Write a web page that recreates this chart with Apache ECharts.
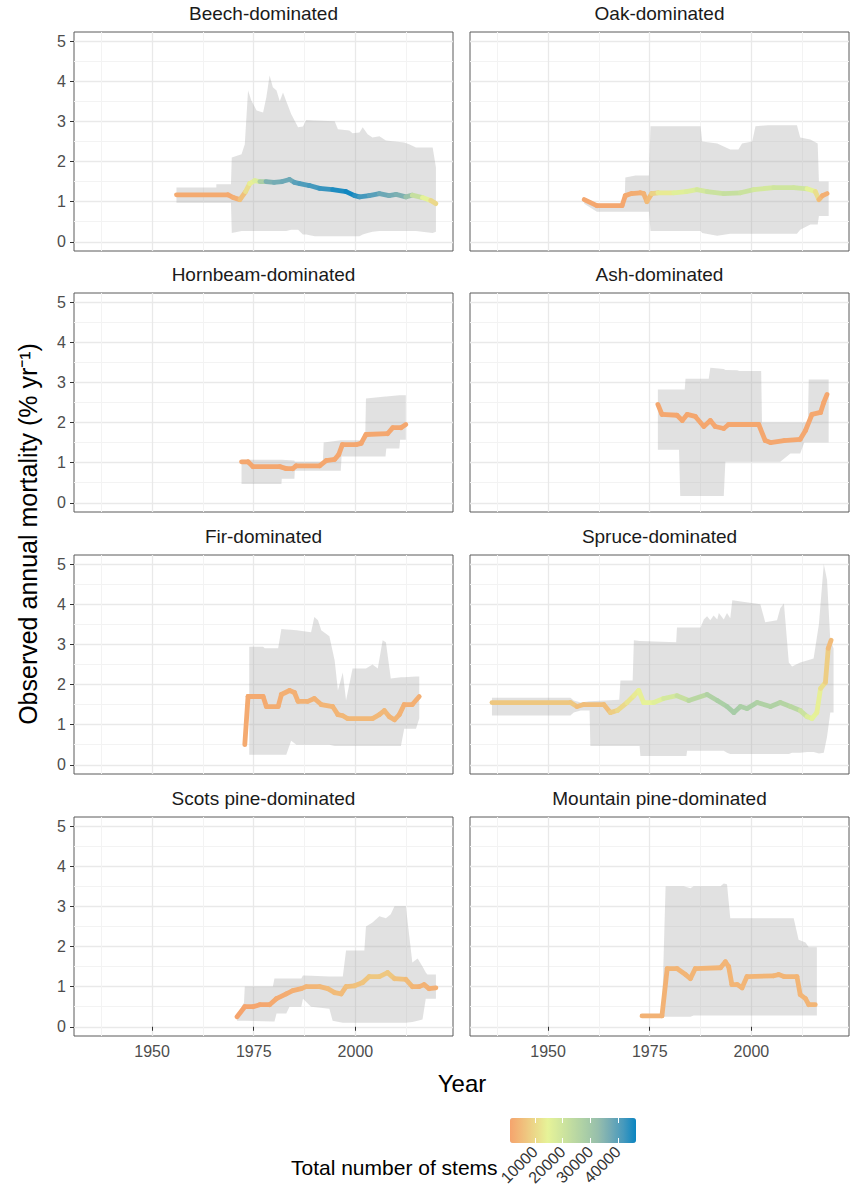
<!DOCTYPE html>
<html>
<head>
<meta charset="utf-8">
<title>Observed annual mortality</title>
<script src="https://cdn.jsdelivr.net/npm/echarts@6.0.0/dist/echarts.min.js"></script>
<style>
  html, body { margin: 0; padding: 0; background: #fff; }
  #chart { width: 855px; height: 1200px; }
</style>
</head>
<body>
<div id="chart"></div>
<script>
// facet names, in panel order (row by row)
var panelNames = ['Beech-dominated', 'Oak-dominated', 'Hornbeam-dominated', 'Ash-dominated',
                  'Fir-dominated', 'Spruce-dominated', 'Scots pine-dominated', 'Mountain pine-dominated'];

// tick labels
var xMajor = [1950, 1975, 2000];
var xMinor = [1937.5, 1962.5, 1987.5, 2012.5];
var yMajor = [0, 1, 2, 3, 4, 5];
var yMinor = [0.5, 1.5, 2.5, 3.5, 4.5];
var stemTicks = [10000, 20000, 30000, 40000];

// --- Beech ---
var beechBandYear = [1956.0, 1965.8, 1965.8, 1969.4, 1969.6, 1972.0, 1972.8, 1973.6, 1974.4, 1975.7, 1977.3, 1978.1, 1978.9, 1979.7, 1980.6, 1981.4, 1982.2, 1983.0, 1984.2, 1985.9, 1987.1, 1987.9, 1990.0, 1994.9, 1995.7, 1998.5, 1999.3, 2001.0, 2001.8, 2003.0, 2004.2, 2005.9, 2007.5, 2012.0, 2013.2, 2014.9, 2019.0, 2019.8];
var beechLow  = [0.97, 0.97, 0.97, 0.97, 0.22, 0.27, 0.27, 0.27, 0.27, 0.27, 0.27, 0.27, 0.27, 0.27, 0.27, 0.27, 0.27, 0.27, 0.30, 0.30, 0.18, 0.18, 0.14, 0.14, 0.14, 0.14, 0.14, 0.14, 0.18, 0.22, 0.25, 0.27, 0.27, 0.27, 0.27, 0.27, 0.22, 0.25];
var beechHigh = [1.35, 1.35, 1.43, 1.43, 2.10, 2.18, 2.43, 3.77, 3.52, 3.27, 3.22, 3.60, 4.14, 3.85, 3.77, 3.50, 3.72, 3.50, 3.18, 2.85, 2.87, 3.03, 3.02, 3.00, 2.80, 2.77, 2.70, 2.72, 2.85, 2.68, 2.60, 2.63, 2.52, 2.47, 2.43, 2.35, 2.35, 1.85];
var beechYear  = [1956.0, 1968.7, 1970.0, 1971.6, 1973.0, 1974.0, 1975.2, 1976.5, 1978.0, 1980.0, 1982.0, 1983.8, 1985.0, 1986.3, 1988.7, 1991.2, 1994.4, 1997.7, 1999.8, 2001.0, 2003.4, 2005.9, 2008.3, 2010.0, 2012.4, 2014.0, 2016.5, 2018.5, 2019.8];
var beechMort  = [1.17, 1.17, 1.10, 1.05, 1.25, 1.45, 1.52, 1.50, 1.50, 1.48, 1.50, 1.55, 1.48, 1.45, 1.40, 1.33, 1.30, 1.25, 1.15, 1.12, 1.15, 1.20, 1.15, 1.18, 1.12, 1.16, 1.10, 1.03, 0.95];
var beechStems = [2000, 2000, 3000, 6000, 11000, 14000, 17000, 28000, 36000, 37000, 38000, 38000, 40000, 41000, 42000, 43000, 45000, 46000, 44000, 42000, 40000, 38000, 37000, 36000, 32000, 22000, 15000, 10000, 5000];

// --- Oak ---
var oakBandYear = [1958.9, 1962.0, 1968.8, 1969.0, 1971.5, 1974.8, 1975.2, 1987.5, 1987.9, 1991.6, 1994.8, 1996.8, 1997.7, 2000.2, 2001.0, 2004.0, 2011.2, 2012.0, 2014.5, 2016.3, 2016.6, 2019.0];
var oakLow  = [0.95, 0.75, 0.75, 0.75, 0.75, 0.75, 0.27, 0.27, 0.22, 0.15, 0.20, 0.20, 0.20, 0.20, 0.20, 0.20, 0.20, 0.30, 0.43, 0.43, 0.64, 0.64];
var oakHigh = [1.10, 0.95, 0.95, 1.60, 1.65, 1.65, 2.88, 2.88, 2.50, 2.45, 2.30, 2.30, 2.45, 2.50, 2.88, 2.90, 2.90, 2.60, 2.55, 2.45, 1.50, 1.50];
var oakYear  = [1958.9, 1962.0, 1968.2, 1969.0, 1970.5, 1972.7, 1973.5, 1974.3, 1975.5, 1977.0, 1980.9, 1984.0, 1986.6, 1989.1, 1993.2, 1997.3, 2000.6, 2005.5, 2010.4, 2013.7, 2015.7, 2016.6, 2017.5, 2018.6];
var oakMort  = [1.05, 0.90, 0.90, 1.15, 1.20, 1.22, 1.20, 1.00, 1.20, 1.22, 1.22, 1.25, 1.30, 1.25, 1.20, 1.22, 1.30, 1.35, 1.35, 1.32, 1.25, 1.05, 1.15, 1.20];
var oakStems = [1500, 1500, 1500, 2000, 2500, 3000, 3500, 5000, 9000, 13000, 16000, 17000, 19000, 21000, 22000, 21000, 19000, 20000, 20000, 15000, 11000, 5000, 3000, 2500];

// --- Hornbeam ---
var hornbeamBandYear = [1972.0, 1981.8, 1981.9, 1985.0, 1985.1, 1992.0, 1992.2, 1996.4, 1996.6, 2002.4, 2002.6, 2007.4, 2007.6, 2010.8, 2011.0, 2012.4];
var hornbeamLow  = [0.47, 0.47, 0.60, 0.60, 0.80, 0.80, 0.80, 0.80, 1.15, 1.15, 1.15, 1.15, 1.35, 1.35, 1.57, 1.57];
var hornbeamHigh = [1.07, 1.07, 1.07, 1.05, 1.02, 1.02, 1.50, 1.56, 1.56, 1.56, 2.60, 2.65, 2.65, 2.68, 2.68, 2.68];
var hornbeamYear  = [1972.0, 1973.6, 1974.8, 1981.4, 1983.0, 1984.6, 1985.4, 1991.2, 1992.8, 1994.9, 1995.9, 1996.8, 2000.2, 2001.4, 2002.6, 2007.9, 2009.2, 2011.2, 2012.4];
var hornbeamMort  = [1.02, 1.02, 0.90, 0.90, 0.85, 0.85, 0.92, 0.92, 1.05, 1.08, 1.20, 1.45, 1.45, 1.48, 1.70, 1.72, 1.87, 1.87, 1.95];
var hornbeamStems = [1500, 1500, 1500, 1500, 1500, 1500, 1500, 1500, 1500, 1500, 1500, 1500, 1500, 1500, 1500, 1500, 1500, 1500, 1500];

// --- Ash ---
var ashBandYear = [1977.0, 1982.2, 1982.5, 1983.6, 1983.8, 1989.5, 1989.9, 1993.2, 1993.6, 1996.5, 1997.0, 2002.4, 2002.6, 2007.1, 2009.6, 2012.0, 2013.0, 2013.9, 2014.1, 2019.0];
var ashLow  = [1.32, 1.32, 0.17, 0.17, 0.17, 0.17, 0.17, 0.17, 1.02, 1.02, 1.02, 1.02, 1.02, 1.02, 1.23, 1.23, 1.50, 1.50, 1.50, 1.50];
var ashHigh = [2.82, 2.82, 2.82, 2.82, 3.09, 3.09, 3.36, 3.33, 3.31, 3.30, 3.28, 3.28, 2.00, 2.00, 2.00, 2.00, 2.00, 2.00, 3.07, 3.07];
var ashYear  = [1977.0, 1978.0, 1981.7, 1983.0, 1984.2, 1986.2, 1988.3, 1989.9, 1991.1, 1993.2, 1994.4, 2001.8, 2003.4, 2004.7, 2008.0, 2012.0, 2013.3, 2014.9, 2017.0, 2017.8, 2018.6];
var ashMort  = [2.45, 2.20, 2.18, 2.05, 2.20, 2.15, 1.90, 2.05, 1.90, 1.85, 1.95, 1.95, 1.55, 1.50, 1.55, 1.58, 1.80, 2.20, 2.25, 2.50, 2.70];
var ashStems = [1500, 1500, 1500, 1500, 1500, 1500, 1500, 1500, 1500, 1500, 1500, 1500, 1500, 1500, 1500, 1500, 1500, 1500, 1500, 1500, 1500];

// --- Fir ---
var firBandYear = [1973.9, 1977.3, 1977.7, 1981.0, 1981.8, 1983.0, 1984.2, 1985.5, 1989.1, 1989.9, 1990.8, 1991.6, 1993.6, 1994.9, 1995.7, 1996.9, 1997.7, 1999.3, 2002.6, 2004.2, 2005.5, 2006.7, 2007.5, 2008.7, 2011.2, 2012.0, 2014.9, 2015.7];
var firLow  = [0.25, 0.25, 0.25, 0.25, 0.25, 0.25, 0.60, 0.50, 0.50, 0.50, 0.50, 0.50, 0.50, 0.47, 0.47, 0.47, 0.47, 0.47, 0.47, 0.47, 0.47, 0.47, 0.47, 0.47, 0.47, 0.90, 0.90, 1.15];
var firHigh = [2.94, 2.94, 2.90, 2.90, 3.38, 3.37, 3.36, 3.35, 3.30, 3.68, 3.60, 3.35, 3.20, 2.60, 1.85, 2.30, 1.60, 2.40, 2.40, 2.50, 2.40, 3.10, 3.05, 2.15, 2.18, 2.18, 2.20, 2.20];
var firYear  = [1972.8, 1973.6, 1977.3, 1978.1, 1981.0, 1981.8, 1983.8, 1985.0, 1985.9, 1988.3, 1989.9, 1991.6, 1994.4, 1995.7, 1996.9, 1998.1, 2004.2, 2005.9, 2007.1, 2008.3, 2009.6, 2010.8, 2012.0, 2014.0, 2015.7];
var firMort  = [0.50, 1.70, 1.70, 1.45, 1.45, 1.75, 1.85, 1.80, 1.58, 1.58, 1.65, 1.50, 1.45, 1.25, 1.22, 1.15, 1.15, 1.25, 1.35, 1.20, 1.12, 1.25, 1.50, 1.50, 1.70];
var firStems = [2000, 2000, 2000, 2500, 2500, 3000, 3000, 3000, 3500, 3500, 3500, 4000, 4000, 4000, 4500, 4500, 4500, 4500, 4500, 4000, 4000, 3500, 3000, 3000, 2500];

// --- Spruce ---
var spruceBandYear = [1936.2, 1955.5, 1956.3, 1958.0, 1960.2, 1960.4, 1967.5, 1967.8, 1970.8, 1971.1, 1972.5, 1972.7, 1981.5, 1981.7, 1984.0, 1984.2, 1987.5, 1988.3, 1989.1, 1989.9, 1990.7, 1991.6, 1992.0, 1993.2, 1994.0, 1994.8, 1995.3, 2002.2, 2003.4, 2006.3, 2007.1, 2008.0, 2009.2, 2010.0, 2012.0, 2013.7, 2015.3, 2016.6, 2017.8, 2018.6, 2019.4, 2020.2];
var spruceLow  = [1.23, 1.23, 1.30, 1.35, 1.35, 0.47, 0.47, 0.47, 0.47, 0.47, 0.47, 0.22, 0.22, 0.22, 0.22, 0.35, 0.35, 0.35, 0.35, 0.35, 0.35, 0.35, 0.35, 0.35, 0.30, 0.27, 0.27, 0.27, 0.27, 0.27, 0.27, 0.27, 0.27, 0.30, 0.30, 0.32, 0.32, 0.28, 0.30, 0.70, 1.30, 1.30];
var spruceHigh = [1.67, 1.67, 1.60, 1.55, 1.58, 1.58, 1.62, 2.10, 2.10, 3.10, 3.08, 3.08, 3.05, 3.42, 3.42, 3.42, 3.42, 3.62, 3.70, 3.60, 3.72, 3.62, 3.78, 3.62, 3.78, 3.65, 4.10, 4.00, 3.55, 3.60, 3.90, 4.02, 2.55, 2.45, 2.55, 2.60, 2.65, 3.50, 5.00, 4.60, 3.10, 2.90];
var spruceYear  = [1936.2, 1955.5, 1957.1, 1958.8, 1963.7, 1965.3, 1967.0, 1969.4, 1971.1, 1972.3, 1973.5, 1976.0, 1978.4, 1981.7, 1984.6, 1989.1, 1991.6, 1994.0, 1995.7, 1997.3, 1998.9, 2001.4, 2004.7, 2007.1, 2009.6, 2012.0, 2013.7, 2014.9, 2016.1, 2017.0, 2018.2, 2018.9, 2019.6];
var spruceMort  = [1.55, 1.55, 1.45, 1.50, 1.50, 1.30, 1.35, 1.55, 1.72, 1.85, 1.55, 1.55, 1.65, 1.72, 1.60, 1.75, 1.60, 1.45, 1.30, 1.45, 1.40, 1.55, 1.45, 1.55, 1.45, 1.35, 1.20, 1.15, 1.30, 1.90, 2.05, 2.90, 3.10];
var spruceStems = [7000, 7000, 5500, 5500, 5500, 8000, 10000, 12000, 13000, 14000, 14500, 16000, 19000, 22000, 25000, 27000, 28000, 29000, 29000, 28000, 28000, 27000, 27000, 26000, 25000, 21000, 17000, 15000, 14000, 11000, 8000, 5000, 3000];

// --- Scots pine ---
var scotsBandYear = [1970.9, 1972.6, 1972.8, 1979.7, 1980.1, 1980.6, 1983.0, 1983.8, 1986.7, 1987.1, 1989.1, 1993.6, 1994.4, 1996.9, 1997.7, 2002.2, 2002.6, 2004.2, 2005.9, 2007.5, 2008.7, 2009.6, 2012.4, 2014.0, 2015.3, 2016.5, 2017.3, 2017.7, 2019.8];
var scotsLow  = [0.15, 0.15, 0.15, 0.13, 0.13, 0.33, 0.33, 0.50, 0.50, 0.70, 0.50, 0.45, 0.15, 0.10, 0.10, 0.10, 0.10, 0.10, 0.10, 0.10, 0.10, 0.10, 0.10, 0.12, 0.15, 0.18, 0.70, 0.70, 0.70];
var scotsHigh = [0.30, 0.60, 1.00, 1.00, 1.20, 1.20, 1.20, 1.20, 1.20, 1.28, 1.27, 1.25, 1.25, 1.25, 1.90, 1.90, 2.50, 2.60, 2.75, 2.70, 2.80, 3.00, 3.00, 1.60, 1.70, 1.50, 1.35, 1.30, 1.30];
var scotsYear  = [1970.9, 1972.8, 1974.8, 1976.5, 1978.9, 1980.6, 1983.0, 1984.6, 1986.7, 1987.9, 1991.2, 1993.2, 1994.9, 1996.5, 1997.7, 1999.8, 2001.8, 2003.4, 2005.9, 2007.9, 2009.6, 2012.4, 2014.0, 2015.7, 2016.9, 2018.1, 2019.8];
var scotsMort  = [0.25, 0.50, 0.50, 0.55, 0.55, 0.70, 0.82, 0.90, 0.95, 1.00, 1.00, 0.95, 0.85, 0.82, 1.00, 1.02, 1.10, 1.25, 1.25, 1.35, 1.20, 1.18, 1.00, 1.00, 1.05, 0.95, 0.97];
var scotsStems = [1000, 1200, 1300, 1500, 1800, 2200, 2500, 3000, 3500, 4000, 4500, 5000, 5000, 5000, 5500, 6000, 6500, 7000, 7000, 7000, 6000, 5000, 4000, 3500, 3500, 3000, 3000];

// --- Mountain pine ---
var mountainBandYear = [1973.1, 1978.0, 1978.9, 1983.4, 1985.0, 1985.8, 1992.4, 1993.2, 1994.0, 1994.8, 2010.4, 2011.6, 2013.3, 2014.1, 2016.1];
var mountainLow  = [0.27, 0.27, 0.25, 0.25, 0.25, 0.28, 0.28, 0.28, 0.28, 0.28, 0.28, 0.28, 0.28, 0.28, 0.28];
var mountainHigh = [0.27, 0.27, 3.50, 3.50, 3.45, 3.50, 3.50, 3.57, 3.55, 2.70, 2.70, 2.17, 2.10, 1.98, 1.98];
var mountainYear  = [1973.1, 1978.0, 1979.3, 1981.7, 1983.8, 1985.0, 1986.2, 1992.4, 1993.6, 1994.4, 1995.2, 1996.5, 1997.7, 1998.9, 2005.5, 2006.7, 2008.0, 2011.2, 2012.0, 2013.3, 2014.1, 2015.7];
var mountainMort  = [0.27, 0.27, 1.45, 1.45, 1.30, 1.20, 1.45, 1.47, 1.62, 1.50, 1.05, 1.05, 0.97, 1.25, 1.27, 1.30, 1.25, 1.25, 0.80, 0.70, 0.55, 0.55];
var mountainStems = [3500, 3500, 4000, 4000, 4000, 4000, 4000, 4000, 4000, 4000, 4000, 4000, 4000, 4000, 4000, 4000, 4000, 4000, 4000, 4000, 4000, 4000];

// colour ramp for the number of stems
var stemColors = ['#F5A46D', '#F0BE7B', '#EBD98A', '#E6F398', '#D2E79D', '#BEDAA1', '#AACEA6', '#96BEAC', '#72AAB5', '#4699BD', '#0A85C1'];

var panels = [
  [beechBandYear, beechLow, beechHigh, beechYear, beechMort, beechStems],
  [oakBandYear, oakLow, oakHigh, oakYear, oakMort, oakStems],
  [hornbeamBandYear, hornbeamLow, hornbeamHigh, hornbeamYear, hornbeamMort, hornbeamStems],
  [ashBandYear, ashLow, ashHigh, ashYear, ashMort, ashStems],
  [firBandYear, firLow, firHigh, firYear, firMort, firStems],
  [spruceBandYear, spruceLow, spruceHigh, spruceYear, spruceMort, spruceStems],
  [scotsBandYear, scotsLow, scotsHigh, scotsYear, scotsMort, scotsStems],
  [mountainBandYear, mountainLow, mountainHigh, mountainYear, mountainMort, mountainStems]
];

var FONT = '"Liberation Sans", Arial, sans-serif';
var colLeft = [74, 470];
var rowTop = [32, 293, 555, 817];
var PW = 379, PH = 219;
var X_MIN = 1930.8, X_MAX = 2024.0, Y_MIN = -0.23, Y_MAX = 5.225;

function plain(v) { return String(v); }

// the grey ribbon: one polygon from all rows of the series
function renderBand(params, api) {
  if (params.dataIndexInside !== 0) return;
  var n = params.dataInsideLength, upper = [], lower = [];
  for (var k = 0; k < n; k++) {
    upper.push(api.coord([api.value(0, k), api.value(2, k)]));
    lower.push(api.coord([api.value(0, k), api.value(1, k)]));
  }
  return {
    type: 'polygon',
    shape: { points: upper.concat(lower.reverse()) },
    style: { fill: '#a3a3a3', opacity: 0.33 }
  };
}

// one line segment per pair of successive points, coloured by visualMap
function renderSegment(params, api) {
  var a = api.coord([api.value(0), api.value(1)]);
  var b = api.coord([api.value(3), api.value(4)]);
  return {
    type: 'line',
    shape: { x1: a[0], y1: a[1], x2: b[0], y2: b[1] },
    style: { stroke: api.visual('color'), lineWidth: 4.8, lineCap: 'round' }
  };
}

var grids = [], xAxes = [], yAxes = [], series = [], graphics = [], segSeries = [];

panels.forEach(function (p, i) {
  var r = Math.floor(i / 2), c = i % 2;
  grids.push({ left: colLeft[c], top: rowTop[r], width: PW, height: PH,
               show: true, borderColor: '#5a5a5a', borderWidth: 1, backgroundColor: 'transparent' });

  var bottomRow = r === 3, leftCol = c === 0;
  xAxes.push({
    gridIndex: i, type: 'value', min: X_MIN, max: X_MAX,
    axisLine: { show: false },
    axisTick: { show: bottomRow, customValues: xMajor, length: 4, lineStyle: { color: '#333' } },
    axisLabel: { show: bottomRow, customValues: xMajor, formatter: plain, fontSize: 16, color: '#4d4d4d', margin: 7, fontFamily: FONT },
    splitLine: { show: true, lineStyle: { color: '#e9e9e9', width: 1.3 } }
  });
  xAxes.push({
    gridIndex: i, type: 'value', min: X_MIN, max: X_MAX,
    axisLine: { show: false }, axisLabel: { show: false },
    axisTick: { show: false, customValues: xMinor },
    splitLine: { show: true, lineStyle: { color: '#f3f3f3', width: 1 } }
  });
  yAxes.push({
    gridIndex: i, type: 'value', min: Y_MIN, max: Y_MAX,
    axisLine: { show: false },
    axisTick: { show: leftCol, customValues: yMajor, length: 4, lineStyle: { color: '#333' } },
    axisLabel: { show: leftCol, customValues: yMajor, formatter: plain, fontSize: 16, color: '#4d4d4d', margin: 8, fontFamily: FONT },
    splitLine: { show: true, lineStyle: { color: '#e9e9e9', width: 1.3 } }
  });
  yAxes.push({
    gridIndex: i, type: 'value', min: Y_MIN, max: Y_MAX,
    axisLine: { show: false }, axisLabel: { show: false },
    axisTick: { show: false, customValues: yMinor },
    splitLine: { show: true, lineStyle: { color: '#f3f3f3', width: 1 } }
  });

  var bandYear = p[0], low = p[1], high = p[2];
  series.push({
    type: 'custom', xAxisIndex: 2 * i, yAxisIndex: 2 * i,
    dimensions: ['year', 'low', 'high'],
    encode: { x: 'year', y: ['low', 'high'] },
    data: bandYear.map(function (x, k) { return [x, low[k], high[k]]; }),
    renderItem: renderBand, silent: true, z: 1
  });

  var yr = p[3], mort = p[4], stems = p[5], segs = [];
  for (var k = 0; k < yr.length - 1; k++) {
    segs.push([yr[k], mort[k], stems[k], yr[k + 1], mort[k + 1]]);
  }
  segSeries.push(series.length);
  series.push({
    type: 'custom', xAxisIndex: 2 * i, yAxisIndex: 2 * i,
    dimensions: ['x0', 'y0', 'stems', 'x1', 'y1'],
    encode: { x: ['x0', 'x1'], y: ['y0', 'y1'] },
    data: segs, renderItem: renderSegment, silent: true, z: 3
  });

  graphics.push({
    type: 'text', x: colLeft[c] + PW / 2, y: rowTop[r] - 19,
    style: { text: panelNames[i], fill: '#1a1a1a', fontSize: 19, fontFamily: FONT, align: 'center', verticalAlign: 'middle' }
  });
});

// colour bar tick labels
grids.push({ left: 510, top: 1118, width: 126, height: 25, show: false });
xAxes.push({
  gridIndex: 8, type: 'value', min: 1000, max: 46500, z: 10,
  axisLine: { show: false },
  axisTick: { show: true, inside: true, customValues: stemTicks, length: 5, lineStyle: { color: '#ffffff', width: 1 } },
  axisLabel: { customValues: stemTicks, formatter: plain, rotate: 45, fontSize: 16, color: '#333', margin: 6, fontFamily: FONT },
  splitLine: { show: false }
});
xAxes.push({
  gridIndex: 8, type: 'value', position: 'top', min: 1000, max: 46500, z: 10,
  axisLine: { show: false }, axisLabel: { show: false },
  axisTick: { show: true, inside: true, customValues: stemTicks, length: 5, lineStyle: { color: '#ffffff', width: 1 } },
  splitLine: { show: false }
});
yAxes.push({ gridIndex: 8, type: 'value', show: false });

graphics.push({
  type: 'text', x: 28, y: 534, rotation: Math.PI / 2,
  style: { text: 'Observed annual mortality (% yr\u207B\u00B9)', fill: '#000', fontSize: 25, fontFamily: FONT, align: 'center', verticalAlign: 'middle' }
});
graphics.push({
  type: 'text', x: 462, y: 1083,
  style: { text: 'Year', fill: '#000', fontSize: 24, fontFamily: FONT, align: 'center', verticalAlign: 'middle' }
});
graphics.push({
  type: 'text', x: 291, y: 1167,
  style: { text: 'Total number of stems', fill: '#000', fontSize: 21, fontFamily: FONT, align: 'left', verticalAlign: 'middle' }
});

var chart = echarts.init(document.getElementById('chart'), null, { renderer: 'svg' });
chart.setOption({
  animation: false,
  backgroundColor: '#fff',
  textStyle: { fontFamily: FONT },
  grid: grids,
  xAxis: xAxes,
  yAxis: yAxes,
  visualMap: {
    type: 'continuous', min: 1000, max: 46500, dimension: 2, seriesIndex: segSeries,
    orient: 'horizontal', left: 510, top: 1118, itemWidth: 25, itemHeight: 126,
    padding: 0, calculable: false, hoverLink: false,
    inRange: { color: stemColors }
  },
  graphic: graphics,
  series: series
});
</script>
</body>
</html>
